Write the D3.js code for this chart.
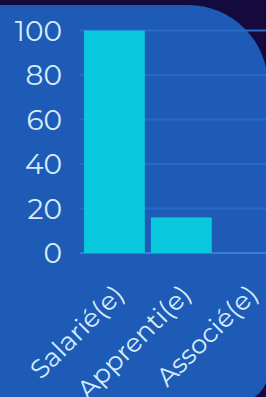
<!DOCTYPE html>
<meta charset="utf-8">
<style>
body { margin: 0; background: #150a3e; }
svg { display: block; }
.tick text { font-family: "Montserrat", "DejaVu Sans", sans-serif; fill: #d6ecfb; }
</style>
<body>
<script src="https://cdn.jsdelivr.net/npm/d3@7"></script>
<script>
var categories = ["Salarié(e)", "Apprenti(e)", "Associé(e)"];
var values = [100, 16, 0];
var yTicks = [0, 20, 40, 60, 80, 100];

var width = 266, height = 397;

var svg = d3.select("body").append("svg")
  .attr("width", width)
  .attr("height", height);

// card background with rounded right corners
svg.append("path")
  .attr("d", "M-10,5 H188 A80,80 0 0 1 268,85 V372 A30,30 0 0 1 238,402 H-10 Z")
  .attr("fill", "#1d5bb7");

var x = d3.scaleBand()
  .domain(categories)
  .range([80.6, 282])
  .paddingInner(0.09)
  .paddingOuter(0.05);

var y = d3.scaleLinear()
  .domain([0, 100])
  .range([253, 30.5]);

// grid
svg.append("g")
  .selectAll("line")
  .data(yTicks)
  .enter().append("line")
  .attr("x1", 80)
  .attr("x2", width)
  .attr("y1", function (d) { return y(d); })
  .attr("y2", function (d) { return y(d); })
  .attr("stroke", function (d) { return d === 0 ? "#3b7bd6" : "#2a68c8"; })
  .attr("stroke-width", 2);

svg.selectAll(".bar")
  .data(values)
  .enter().append("rect")
  .attr("class", "bar")
  .attr("x", function (d, i) { return x(categories[i]); })
  .attr("y", function (d) { return y(d); })
  .attr("width", x.bandwidth())
  .attr("height", function (d) { return y(0) - y(d); })
  .attr("fill", "#08c8dd");

var yAxis = svg.append("g")
  .attr("transform", "translate(62,1)")
  .call(d3.axisLeft(y).tickValues(yTicks).tickSize(0).tickPadding(0));
yAxis.select(".domain").remove();
yAxis.selectAll("text").attr("font-size", 28);

var xAxis = svg.append("g")
  .attr("transform", "translate(0,253)")
  .call(d3.axisBottom(x).tickSize(0).tickPadding(0));
xAxis.select(".domain").remove();
xAxis.selectAll("text")
  .attr("font-size", 26)
  .attr("text-anchor", "end")
  .attr("dy", 0)
  .attr("transform", "translate(11,43) rotate(-45)");
</script>
</body>
